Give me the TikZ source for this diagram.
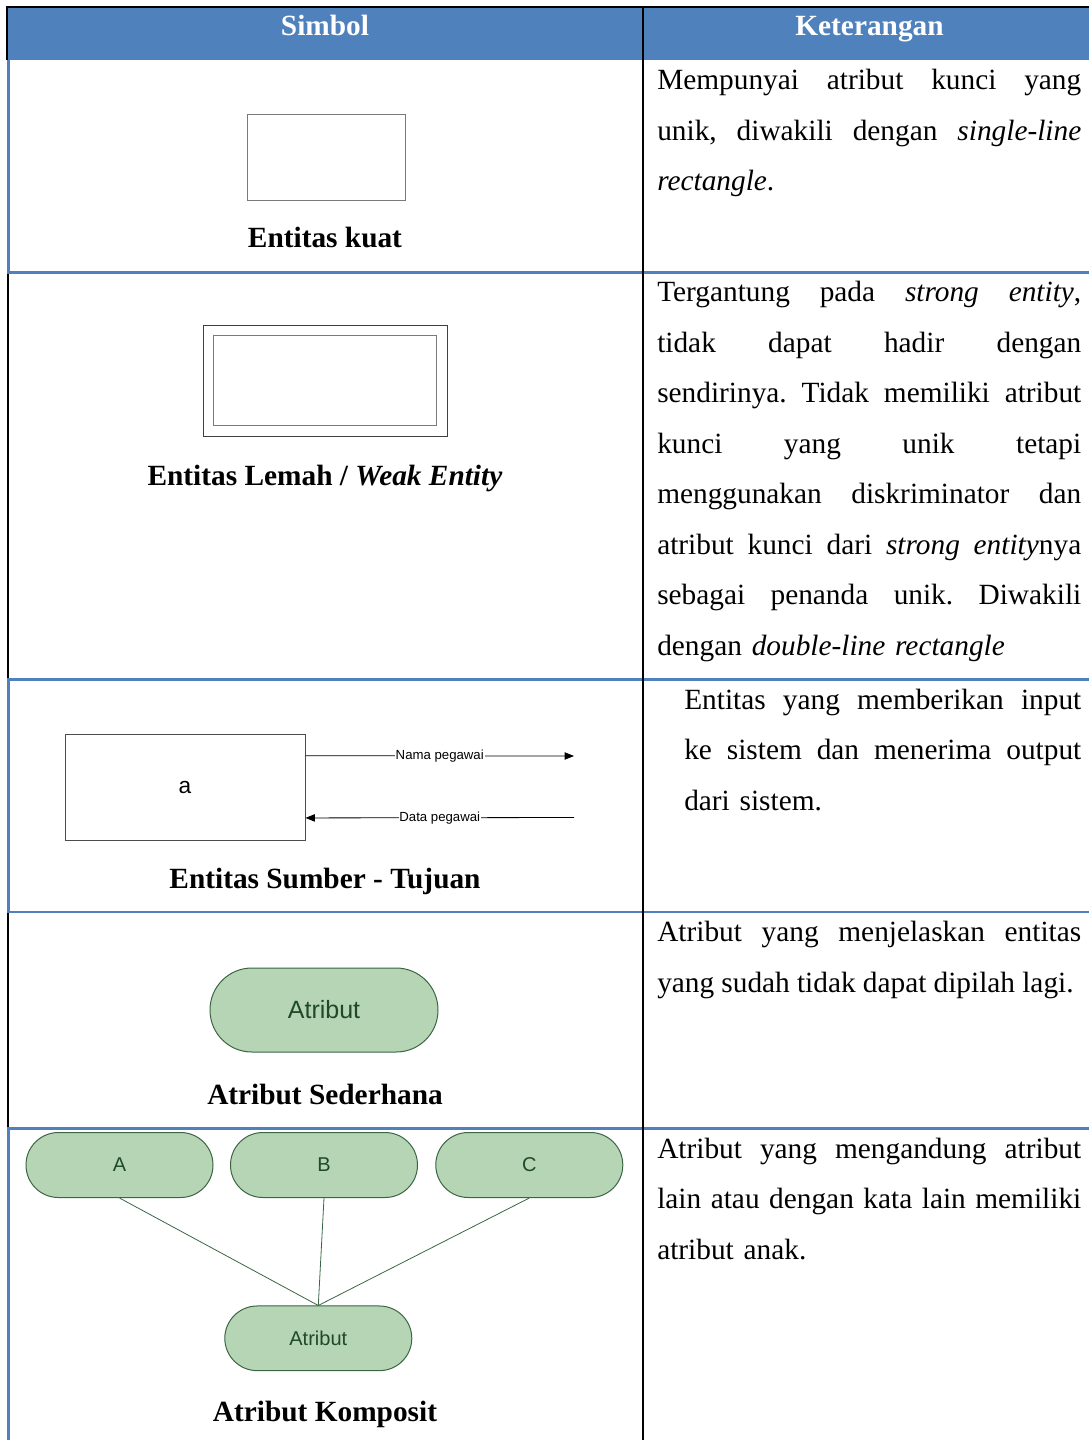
\documentclass[tikz,border=0pt]{standalone}
\usepackage{fontspec}
\setmainfont{Liberation Serif}
\setsansfont{Liberation Sans}
\usetikzlibrary{arrows.meta,calc}
\definecolor{hdrblue}{HTML}{4F81BD}
\definecolor{attrfill}{HTML}{B6D5B4}
\definecolor{attrline}{HTML}{3A6645}
\definecolor{attrtext}{HTML}{1F4A2A}
\definecolor{boxgray}{HTML}{7A7A7A}
\newcommand{\jl}[2][318pt]{\leavevmode\hbox to #1{#2}}
\frenchspacing
\begin{document}
\begin{tikzpicture}[x=0.75pt,y=-0.75pt,
  hdr/.style={anchor=base,inner sep=0pt,text=white,font=\bfseries\fontsize{22}{26}\selectfont},
  lbl/.style={anchor=base,inner sep=0pt,font=\bfseries\fontsize{22}{26}\selectfont},
  body/.style={anchor=base west,inner sep=0pt,align=left,text width=330pt,font=\frenchspacing\fontsize{22}{37.875}\selectfont},
  attr/.style={draw=attrline,fill=attrfill,text=attrtext,line width=0.75pt,inner sep=0pt},
  flbl/.style={fill=white,inner sep=0.6pt,font=\sffamily\fontsize{9.9}{12}\selectfont},
  flow/.style={line width=0.6pt,-{Triangle[length=7pt,width=5.5pt]}},
  blueline/.style={draw=hdrblue,line width=2pt},
  blackline/.style={draw=black,line width=1.6pt}
]
\useasboundingbox (0,0) rectangle (1089,1440);
% header
\fill[hdrblue] (7,7.3) rectangle (1089,60);
\draw[blackline,line width=1.5pt] (5.5,6.5) -- (1089,6.5);
\draw[blackline,line width=1.8pt] (6.9,6) -- (6.9,60);
% left borders
\draw[blueline,line width=2.4pt] (8.6,60) -- (8.6,272.3);
\draw[blackline] (7.9,272.3) -- (7.9,679.5);
\draw[blueline,line width=2.4pt] (8.6,679.5) -- (8.6,912);
\draw[blackline] (7.9,912) -- (7.9,1128.7);
\draw[blueline,line width=2.4pt] (8.6,1128.7) -- (8.6,1440);
% row separators
\foreach \yy in {272.3,679.5,912,1128.7} \draw[blueline] (7,\yy) -- (1089,\yy);
% column divider
\draw[blackline,line width=1.7pt] (642.9,5.5) -- (642.9,1440);

% header texts
\node[hdr] (h1) at (325,35.5) {Simbol};
\node[hdr] (h2) at (869.5,35.5) {Keterangan};

% row 1
\node[draw=boxgray,line width=0.75pt,minimum width=118.5pt,minimum height=64.5pt,inner sep=0pt] (r1) at (326,157) {};
\node[lbl] (l1) at (325,247) {Entitas kuat};
\node[body] (t1) at (657,89.5) {\jl{Mempunyai\hfill atribut\hfill kunci\hfill yang}\\
\jl{unik,\hfill diwakili\hfill dengan\hfill \textit{single-line}}\\
\textit{rectangle}.};

% row 2
\node[draw=black!75,line width=0.75pt,minimum width=183.4pt,minimum height=83pt,inner sep=0pt] (we1) at (325.3,381.2) {};
\node[draw=boxgray,line width=0.75pt,minimum width=167.5pt,minimum height=67.5pt,inner sep=0pt] (we2) at (325,380.3) {};
\node[lbl] (l2) at (325,485) {Entitas Lemah / \textit{Weak Entity}};
\node[body] (t2) at (657,301.8) {\jl{Tergantung\hfill pada\hfill \textit{strong\hfill entity},}\\
\jl{tidak\hfill dapat\hfill hadir\hfill dengan}\\
\jl{sendirinya.\hfill Tidak\hfill memiliki\hfill atribut}\\
\jl{kunci\hfill yang\hfill unik\hfill tetapi}\\
\jl{menggunakan\hfill diskriminator\hfill dan}\\
\jl{atribut\hfill kunci\hfill dari\hfill \textit{strong\hfill entity}nya}\\
\jl{sebagai\hfill penanda\hfill unik.\hfill Diwakili}\\
dengan \textit{double-line rectangle}};

% row 3
\node[draw=black!70,line width=0.75pt,minimum width=180pt,minimum height=79.5pt,inner sep=0pt,font=\sffamily\fontsize{17}{20}\selectfont] (src) at (185,787) {a};
\coordinate (o1) at (574,756);
\coordinate (i2) at (574,817.5);
\draw[flow] ($(src.north east)!0.208!(src.south east)$) -- node[flbl] (nl1) {Nama pegawai} (o1);
\draw[flow] (i2) -- node[flbl] (nl2) {Data pegawai} ($(src.north east)!0.789!(src.south east)$);
\node[lbl] (l3) at (325,888) {Entitas Sumber - Tujuan};
\node[body] (t3) at (684,709) {\jl[297.75pt]{Entitas\hfill yang\hfill memberikan\hfill input}\\
\jl[297.75pt]{ke\hfill sistem\hfill dan\hfill menerima\hfill output}\\
dari sistem.};

% row 4
\node[attr,minimum width=171pt,minimum height=63pt,rounded corners=31.4pt,font=\sffamily\fontsize{18.75}{22}\selectfont] (at1) at (324,1010) {Atribut};
\node[lbl] (l4) at (325,1104) {Atribut Sederhana};
\node[body] (t4) at (657,941.5) {\jl{Atribut\hfill yang\hfill menjelaskan\hfill entitas}\\
{\spaceskip=0.245em\relax yang sudah tidak dapat dipilah lagi.}};

% row 5
\tikzset{sub/.style={attr,minimum width=140.25pt,minimum height=48.75pt,rounded corners=24.3pt,font=\sffamily\fontsize{15}{18}\selectfont}}
\node[sub] (ca) at (119.5,1165) {A};
\node[sub] (cb) at (324,1165) {B};
\node[sub] (cc) at (529.3,1165) {C};
\node[sub,minimum height=48.5pt] (ck) at (318.3,1338.3) {Atribut};
\draw[attrline,line width=0.6pt] (ca.south) -- (ck.north);
\draw[attrline,line width=0.6pt] (cb.south) -- (ck.north);
\draw[attrline,line width=0.6pt] (cc.south) -- (ck.north);
\node[lbl] (l5) at (325,1421.5) {Atribut Komposit};
\node[body] (t5) at (657,1158) {\jl{Atribut\hfill yang\hfill mengandung\hfill atribut}\\
\jl{lain\hfill atau\hfill dengan\hfill kata\hfill lain\hfill memiliki}\\
atribut anak.};
\end{tikzpicture}
\end{document}
